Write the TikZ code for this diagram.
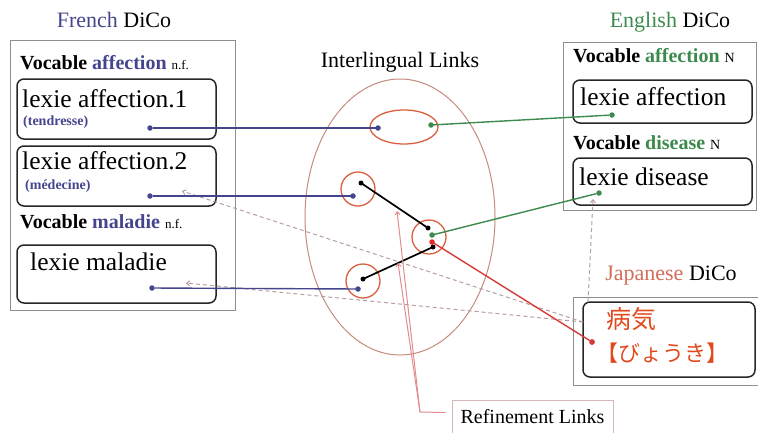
\documentclass[tikz,border=0pt]{standalone}
\usepackage{fontspec}
\setmainfont{Liberation Serif}
\newfontfamily\cjk{Noto Sans CJK JP}
\usetikzlibrary{arrows.meta,shapes.geometric}
\definecolor{frblue}{HTML}{45458F}
\definecolor{engreen}{HTML}{3D8A4E}
\definecolor{jpred}{HTML}{D26E5C}
\definecolor{jporange}{HTML}{E24A1E}
\definecolor{linkred}{HTML}{D9603F}
\definecolor{bigell}{HTML}{C48C7C}
\definecolor{dashc}{HTML}{B89CA3}
\definecolor{refc}{HTML}{E28C8C}
\definecolor{redline}{HTML}{D43A36}
\definecolor{framec}{HTML}{8E8E8E}
\definecolor{dotred}{HTML}{E8262A}
\tikzset{
  frame/.style={draw=framec, line width=1pt, inner sep=0, rectangle},
  lexbox/.style={draw=black!85, line width=1.5pt, rounded corners=7pt, inner sep=0, rectangle},
  lbl/.style={inner sep=0, anchor=base west},
  title/.style={inner sep=0, font=\fontsize{22}{26}\selectfont},
  voc/.style={lbl, font=\bfseries\fontsize{20}{24}\selectfont},
  lex/.style={lbl, font=\fontsize{25.5}{30}\selectfont},
  sense/.style={lbl, font=\bfseries\fontsize{14}{16}\selectfont, text=frblue},
  dotnode/.style={circle, inner sep=0, minimum size=5.5pt},
  bdot/.style={dotnode, fill=frblue},
  gdot/.style={dotnode, fill=engreen},
  kdot/.style={dotnode, fill=black, minimum size=5pt},
  rdot/.style={dotnode, fill=dotred},
  jdot/.style={dotnode, fill=redline},
  linkcirc/.style={draw=linkred, line width=1.3pt, inner sep=0},
  bline/.style={draw=frblue, line width=1.4pt},
  gline/.style={draw=engreen, line width=1.4pt},
  kline/.style={draw=black, line width=1.7pt},
  rline/.style={draw=redline, line width=1.4pt},
  dline/.style={draw=dashc, line width=1pt, dash pattern=on 4pt off 3pt},
  refl/.style={draw=refc, line width=1pt},
}
\begin{document}
\begin{tikzpicture}[x=1pt,y=-1pt]
\useasboundingbox (0,0) rectangle (758,432);

% ---------- French DiCo ----------
\node[title] (frtitle) at (114,20) {\textcolor{frblue}{French} DiCo};
\node[frame, minimum width=225pt, minimum height=270pt] (frbox) at (122.5,175) {};
\node[voc] (frv1) at (20,69) {Vocable \textcolor{frblue}{affection} {\mdseries\fontsize{13}{15}\selectfont n.f.}};
\node[lexbox, minimum width=199pt, minimum height=60pt] (fa1) at (116.5,109) {};
\node[lex] (fa1t) at (22,107) {lexie affection.1};
\node[sense] (fa1s) at (23,125) {(tendresse)};
\node[lexbox, minimum width=199pt, minimum height=60pt] (fa2) at (116.5,176) {};
\node[lex] (fa2t) at (22,169) {lexie affection.2};
\node[sense] (fa2s) at (25,189) {(médecine)};
\node[voc] (frv2) at (20,228) {Vocable \textcolor{frblue}{maladie} {\mdseries\fontsize{13}{15}\selectfont n.f.}};
\node[lexbox, minimum width=199pt, minimum height=58pt] (fm) at (116.5,274) {};
\node[lex] (fmt) at (30,270) {lexie maladie};
\node[bdot] (fa1d) at (150,128) {};
\node[bdot] (fa2d) at (150,196) {};
\node[bdot] (fmd) at (152,288) {};
\coordinate (fa2a) at (182,191);
\coordinate (fma) at (186,283);

% ---------- English DiCo ----------
\node[title] (entitle) at (670,22) {\textcolor{engreen}{English} DiCo};
\node[frame, minimum width=193pt, minimum height=168pt] (enbox) at (659.5,126) {};
\node[voc] (env1) at (573,62) {Vocable \textcolor{engreen}{affection} {\mdseries\fontsize{14}{16}\selectfont N}};
\node[lexbox, minimum width=179pt, minimum height=43pt] (e1) at (662.5,101.5) {};
\node[lex] (e1t) at (580,105) {lexie affection};
\node[voc] (env2) at (573,149) {Vocable \textcolor{engreen}{disease} {\mdseries\fontsize{14}{16}\selectfont N}};
\node[lexbox, minimum width=179pt, minimum height=47pt] (e2) at (662.5,181.5) {};
\node[lex] (e2t) at (579,185) {lexie disease};
\node[gdot] (e1d) at (612,115) {};
\node[gdot] (e2d) at (599,193) {};
\coordinate (e2a) at (593,199);

% ---------- Japanese DiCo ----------
\node[title] (jptitle) at (671,276) {\textcolor{jpred}{Japanese} DiCo};
\node[frame, minimum width=186pt, minimum height=88pt] (jpbox) at (666,341) {};
\node[lexbox, minimum width=172pt, minimum height=75pt] (j1) at (669,339.5) {};
\node[lbl, text=jporange, font=\cjk\fontsize{25}{28}\selectfont] (j1a) at (606,328) {病気};
\node[lbl, text=jporange, font=\cjk\fontsize{22}{25}\selectfont] (j1b) at (596,361) {【びょうき】};
\node[jdot] (jd) at (592,342) {};
\coordinate (jl) at (583,322);
\coordinate (jt) at (588,302);

% ---------- Interlingual links ----------
\node[title] (iltitle) at (400,62) {Interlingual Links};
\node[ellipse, draw=bigell, line width=1pt, inner sep=0, minimum width=190pt, minimum height=276pt] (big) at (400,217) {};
\node[ellipse, linkcirc, minimum width=68pt, minimum height=34pt] (c1) at (404,127) {};
\node[circle, linkcirc, minimum size=34pt] (c2) at (358,189) {};
\node[circle, linkcirc, minimum size=34pt] (c3) at (429,237) {};
\node[circle, linkcirc, minimum size=34pt] (c4) at (363,281) {};

% connectors (drawn before dots)
\draw[dline, -{Straight Barb[length=3pt,width=5pt]}] (jl) -- (fa2a);
\draw[dline, -{Straight Barb[length=3pt,width=5pt]}] (jl) -- (fma);
\draw[dline, -{Straight Barb[length=3pt,width=5pt]}] (jt) -- (e2a);

\coordinate (c1b) at (378,128);
\coordinate (c1g) at (431,125);
\coordinate (c2b) at (353,196);
\coordinate (c2k) at (361,183);
\coordinate (c3k1) at (428,228);
\coordinate (c3g) at (432,235);
\coordinate (c3r) at (432,242);
\coordinate (c3k2) at (433,247);
\coordinate (c4k) at (363,279);
\coordinate (c4b) at (358,289);

\draw[bline] (fa1d) -- (c1b);
\draw[bline] (fa2d) -- (c2b);
\draw[bline] (fmd) -- (c4b);
\draw[gline] (c1g) -- (e1d);
\draw[gline] (c3g) -- (e2d);
\draw[rline] (c3r) -- (jd);
\draw[kline] (c2k) -- (c3k1);
\draw[kline] (c4k) -- (c3k2);

\node[bdot] (c1bd) at (c1b) {};
\node[gdot] (c1gd) at (c1g) {};
\node[bdot] (c2bd) at (c2b) {};
\node[kdot] (c2kd) at (c2k) {};
\node[kdot] (c3k1d) at (c3k1) {};
\node[gdot] (c3gd) at (c3g) {};
\node[rdot] (c3rd) at (c3r) {};
\node[kdot] (c3k2d) at (c3k2) {};
\node[kdot] (c4kd) at (c4k) {};
\node[bdot] (c4bd) at (c4b) {};
\node[jdot] (jd2) at (jd) {};

% ---------- Refinement links ----------
\node[draw=refc!60!gray!60, line width=1pt, inner sep=0, minimum width=161pt, minimum height=33pt, font=\fontsize{20}{24}\selectfont] (ref) at (532.5,416.5) {Refinement Links};
\coordinate (rc) at (420,412);
\coordinate (ra1) at (397,211);
\coordinate (ra2) at (398,263);
\draw[refl] (ref.west) ++(-6,-4) -- (rc);
\draw[refl, -{Straight Barb[length=3pt,width=5pt]}] (rc) -- (ra1);
\draw[refl, -{Straight Barb[length=3pt,width=5pt]}] (rc) -- (ra2);
\end{tikzpicture}
\end{document}
